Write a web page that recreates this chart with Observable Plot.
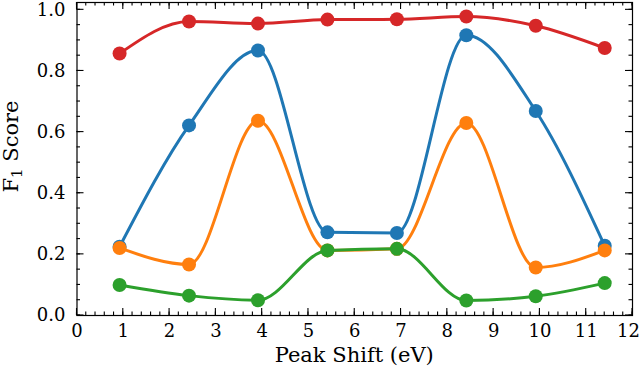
<!DOCTYPE html>
<html><head><meta charset="utf-8">
<script src="https://cdn.jsdelivr.net/npm/d3@7"></script>
<script src="https://cdn.jsdelivr.net/npm/@observablehq/plot@0.6"></script>
<style>body{margin:0;background:#fff} svg{display:block}</style>
</head><body><div id="chart"></div>
<script>
// ---- data ----
const peakShift = [0.92, 2.42, 3.91, 5.41, 6.91, 8.41, 9.91, 11.40];
const seriesNames = ["A", "B", "C", "D"];
const seriesColors = ["#1f77b4", "#ff7f0e", "#2ca02c", "#d62728"];
const blueF1   = [0.225, 0.622, 0.867, 0.272, 0.270, 0.917, 0.669, 0.228];
const orangeF1 = [0.221, 0.167, 0.637, 0.213, 0.218, 0.630, 0.157, 0.213];
const greenF1  = [0.100, 0.065, 0.050, 0.213, 0.218, 0.049, 0.063, 0.106];
const redF1    = [0.857, 0.962, 0.955, 0.968, 0.969, 0.978, 0.948, 0.875];
const xTicks = [0, 1, 2, 3, 4, 5, 6, 7, 8, 9, 10, 11, 12];
const yTicks = [0.0, 0.2, 0.4, 0.6, 0.8, 1.0];
const xMinorStep = 0.2;
const yMinorStep = 0.05;
const xLabel = "Peak Shift (eV)";
const yLabelMain = "F", yLabelSub = "1", yLabelRest = " Score";

const seriesValues = [blueF1, orangeF1, greenF1, redF1];
const series = seriesNames.map((name, k) => ({
  name,
  rows: peakShift.map((x, i) => ({x, y: seriesValues[k][i], s: name}))
}));

const FONT = "DejaVu Serif";
const marks = [];
for (const s of series) {
  marks.push(Plot.line(s.rows, {x: "x", y: "y", stroke: "s", strokeWidth: 3, curve: "monotone-x"}));
  marks.push(Plot.dot(s.rows, {x: "x", y: "y", fill: "s", r: 7}));
}
marks.push(Plot.frame({stroke: "black", strokeWidth: 1.2}));

const plot = Plot.plot({
  width: 640, height: 384,
  marginLeft: 76.5, marginRight: 8, marginTop: 2, marginBottom: 69,
  style: {fontFamily: FONT, fontSize: "18px", background: "white", color: "black", overflow: "visible"},
  x: {domain: [0, 12], ticks: xTicks, tickFormat: d => String(d), tickSize: 0, tickPadding: 9, label: null},
  y: {domain: [0, 1.024], ticks: yTicks, tickFormat: d3.format(".1f"), tickSize: 0, tickPadding: 11.5, label: null},
  color: {domain: seriesNames, range: seriesColors},
  marks
});
document.getElementById("chart").appendChild(plot);

const svg = d3.select(plot);
// keep the last x tick label inside the picture, as in the reference
const xLabels = svg.selectAll('g[aria-label="x-axis tick label"] text').nodes();
if (xLabels.length) d3.select(xLabels[xLabels.length - 1]).attr("dx", -4);

// inward ticks on all four sides, from the plot's own scales
const sx = plot.scale("x"), sy = plot.scale("y");
const [xa, xb] = sx.range, [ya, yb] = sy.range; // ya bottom, yb top
const g = svg.append("g").attr("stroke", "black").attr("stroke-width", 1.1);
const xMinor = d3.range(0, 12 + 1e-9, xMinorStep);
const yMinor = d3.range(0, 1.0 + 1e-9, yMinorStep);
function xt(vals, len) {
  for (const v of vals) {
    const px = sx.apply(v);
    g.append("line").attr("x1", px).attr("x2", px).attr("y1", ya).attr("y2", ya - len);
    g.append("line").attr("x1", px).attr("x2", px).attr("y1", yb).attr("y2", yb + len);
  }
}
function yt(vals, len) {
  for (const v of vals) {
    const py = sy.apply(v);
    g.append("line").attr("y1", py).attr("y2", py).attr("x1", xa).attr("x2", xa + len);
    g.append("line").attr("y1", py).attr("y2", py).attr("x1", xb).attr("x2", xb - len);
  }
}
xt(xMinor, 3.5); xt(xTicks, 7);
yt(yMinor, 3.5); yt(yTicks, 7);

// axis labels
svg.append("text")
  .attr("x", (xa + xb) / 2).attr("y", 362)
  .attr("text-anchor", "middle").attr("font-family", FONT).attr("font-size", 21).attr("fill", "black")
  .text(xLabel);
const yl = svg.append("text")
  .attr("transform", `translate(18,${(ya + yb) / 2 - 12}) rotate(-90)`)
  .attr("text-anchor", "middle").attr("font-family", FONT).attr("font-size", 21).attr("fill", "black");
yl.append("tspan").text(yLabelMain);
yl.append("tspan").attr("font-size", 15).attr("dy", 4).text(yLabelSub);
yl.append("tspan").attr("dy", -4).text(yLabelRest);
</script>
</body></html>
